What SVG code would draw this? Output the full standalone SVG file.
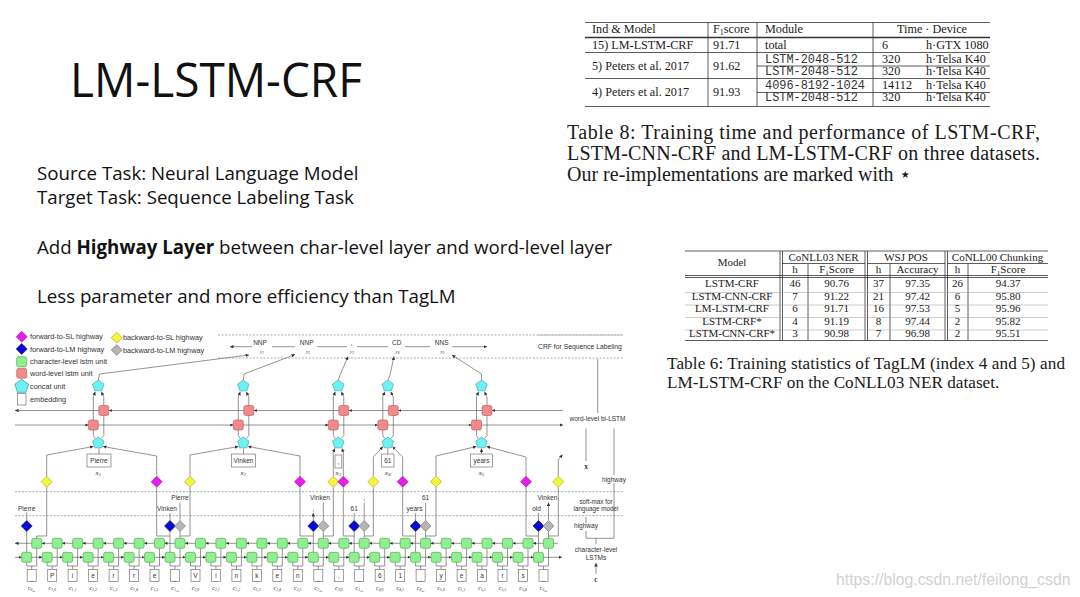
<svg xmlns="http://www.w3.org/2000/svg" width="1080" height="597" viewBox="0 0 1080 597">
<style>
.sl{font-family:"Open Sans","Noto Sans",sans-serif;fill:#111}
.tm{font-family:"Liberation Serif","Times New Roman",serif;fill:#1a1a1a}
.mo{font-family:"Liberation Mono","Courier New",monospace;fill:#333}
.tb{stroke:#333;stroke-width:0.8;fill:none}
.df{font-family:"Liberation Sans",Arial,sans-serif;fill:#333;font-size:6.5px}
.lg{font-family:"Liberation Sans",Arial,sans-serif;fill:#333;font-size:7.3px}
.it{font-family:"Liberation Serif","Times New Roman",serif;font-style:italic;fill:#333}
.ln{stroke:#666;stroke-width:0.7;fill:none}
.ar{marker-end:url(#ah)}
.dash{stroke:#888;stroke-width:0.7;stroke-dasharray:2 1.5;fill:none}
.g{fill:#8ef08e;stroke:#4a9a4a;stroke-width:0.6}
.r{fill:#f28a8a;stroke:#b05a5a;stroke-width:0.6}
.c{fill:#6ff0f5;stroke:#3a9aa0;stroke-width:0.6}
.mg{fill:#e81ee8;stroke:#9a109a;stroke-width:0.6}
.bl{fill:#0a0ad8;stroke:#05056a;stroke-width:0.6}
.ye{fill:#f5f53a;stroke:#a0a020;stroke-width:0.6}
.gy{fill:#b5b5b5;stroke:#777;stroke-width:0.6}
.em{fill:#fff;stroke:#777;stroke-width:0.7}
</style>
<defs>
<marker id="ah" viewBox="0 0 6 6" refX="6" refY="3" markerWidth="3.5" markerHeight="3.5" markerUnits="userSpaceOnUse" orient="auto-start-reverse"><path d="M0,0L6,3L0,6z" fill="#333"/></marker>
<marker id="am" viewBox="0 0 6 6" refX="6" refY="3" markerWidth="3" markerHeight="3" markerUnits="userSpaceOnUse" orient="auto"><path d="M0,0L6,3L0,6z" fill="#333"/></marker>
<rect id="sq" x="-5" y="-5" width="10" height="10" rx="2"/>
<polygon id="pent" points="0,-6 5.71,-1.85 3.53,4.85 -3.53,4.85 -5.71,-1.85"/>
<polygon id="dia" points="0,-5.5 5.5,0 0,5.5 -5.5,0"/>
</defs>
<rect width="1080" height="597" fill="#fff"/>

<!-- slide text -->
<text class="sl" x="70" y="97" font-size="48" textLength="292" lengthAdjust="spacingAndGlyphs">LM-LSTM-CRF</text>
<text class="sl" x="37" y="180" font-size="18.7">Source Task: Neural Language Model</text>
<text class="sl" x="37" y="204" font-size="18.7">Target Task: Sequence Labeling Task</text>
<text class="sl" x="37" y="254" font-size="18.7">Add <tspan font-weight="700">Highway Layer</tspan> between char-level layer and word-level layer</text>
<text class="sl" x="37" y="303" font-size="18.7">Less parameter and more efficiency than TagLM</text>

<!-- Table 8 -->
<g id="table8">
<path class="tb" d="M585 22.5H990M585 52.5H990M585 78.5H990M585 106.5H990M757 66H990M757 92.5H990M708 22.5V106.5M757 22.5V106.5M873 22.5V106.5"/>
<path d="M585 37.5H990" stroke="#333" stroke-width="1.3"/>
<g class="tm" font-size="12.2">
<text x="592" y="33">Ind &amp; Model</text>
<text x="713" y="33">F<tspan font-size="8" dy="2">1</tspan><tspan dy="-2">score</tspan></text>
<text x="765" y="33">Module</text>
<text x="932" y="33" text-anchor="middle">Time · Device</text>
<text x="592" y="48.5">15) LM-LSTM-CRF</text>
<text x="713" y="48.5">91.71</text>
<text x="765" y="48.5">total</text>
<text x="882" y="48.5">6</text>
<text x="926" y="48.5">h·GTX 1080</text>
<text x="592" y="69.5">5) Peters et al. 2017</text>
<text x="713" y="69.5">91.62</text>
<text x="882" y="62.5">320</text>
<text x="926" y="62.5">h·Telsa K40</text>
<text x="882" y="75">320</text>
<text x="926" y="75">h·Telsa K40</text>
<text x="592" y="95.5">4) Peters et al. 2017</text>
<text x="713" y="95.5">91.93</text>
<text x="882" y="88.5">14112</text>
<text x="926" y="88.5">h·Telsa K40</text>
<text x="882" y="101">320</text>
<text x="926" y="101">h·Telsa K40</text>
</g>
<g class="mo" font-size="11.9">
<text x="765" y="62.5">LSTM-2048-512</text>
<text x="765" y="75">LSTM-2048-512</text>
<text x="765" y="88.5">4096-8192-1024</text>
<text x="765" y="101">LSTM-2048-512</text>
</g>
</g>
<g class="tm" font-size="20">
<text x="567" y="139" textLength="473" lengthAdjust="spacing">Table 8: Training time and performance of LSTM-CRF,</text>
<text x="567" y="160" textLength="473" lengthAdjust="spacing">LSTM-CNN-CRF and LM-LSTM-CRF on three datasets.</text>
<text x="567" y="181">Our re-implementations are marked with ⋆</text>
</g>

<!-- Table 6 -->
<g id="table6">
<path class="tb" d="M685 251H1048M782 263.5H865M867.5 263.5H945M947.5 263.5H1048M685 275.5H1048M685 277.5H1048M685 340.5H1048M780 251V340.5M782.5 251V340.5M865 251V340.5M867.5 251V340.5M945 251V340.5M947.5 251V340.5M808 263.5V340.5M890 263.5V340.5M968 263.5V340.5"/>
<path d="M685 292.5H1048M685 305H1048M685 317.5H1048M685 330H1048" stroke="#999" stroke-width="0.5"/>
<g class="tm" font-size="11" text-anchor="middle">
<text x="732" y="266">Model</text>
<text x="823.5" y="260.5">CoNLL03 NER</text>
<text x="906" y="260.5">WSJ POS</text>
<text x="997.5" y="260.5">CoNLL00 Chunking</text>
<text x="795" y="273">h</text>
<text x="836.5" y="273">F<tspan font-size="7" dy="1.5">1</tspan><tspan dy="-1.5">Score</tspan></text>
<text x="878.5" y="273">h</text>
<text x="917.5" y="273">Accuracy</text>
<text x="957.5" y="273">h</text>
<text x="1008" y="273">F<tspan font-size="7" dy="1.5">1</tspan><tspan dy="-1.5">Score</tspan></text>
<text x="732" y="287">LSTM-CRF</text><text x="795" y="287">46</text><text x="836.5" y="287">90.76</text><text x="878.5" y="287">37</text><text x="917.5" y="287">97.35</text><text x="957.5" y="287">26</text><text x="1008" y="287">94.37</text>
<text x="732" y="299.5">LSTM-CNN-CRF</text><text x="795" y="299.5">7</text><text x="836.5" y="299.5">91.22</text><text x="878.5" y="299.5">21</text><text x="917.5" y="299.5">97.42</text><text x="957.5" y="299.5">6</text><text x="1008" y="299.5">95.80</text>
<text x="732" y="312">LM-LSTM-CRF</text><text x="795" y="312">6</text><text x="836.5" y="312">91.71</text><text x="878.5" y="312">16</text><text x="917.5" y="312">97.53</text><text x="957.5" y="312">5</text><text x="1008" y="312">95.96</text>
<text x="732" y="324.5">LSTM-CRF*</text><text x="795" y="324.5">4</text><text x="836.5" y="324.5">91.19</text><text x="878.5" y="324.5">8</text><text x="917.5" y="324.5">97.44</text><text x="957.5" y="324.5">2</text><text x="1008" y="324.5">95.82</text>
<text x="732" y="337">LSTM-CNN-CRF*</text><text x="795" y="337">3</text><text x="836.5" y="337">90.98</text><text x="878.5" y="337">7</text><text x="917.5" y="337">96.98</text><text x="957.5" y="337">2</text><text x="1008" y="337">95.51</text>
</g>
</g>
<g class="tm" font-size="17.2">
<text x="667" y="369" textLength="398" lengthAdjust="spacing">Table 6: Training statistics of TagLM (index 4 and 5) and</text>
<text x="667" y="388">LM-LSTM-CRF on the CoNLL03 NER dataset.</text>
</g>

<!-- watermark -->
<text x="836" y="585" font-family="Liberation Sans,Arial,sans-serif" font-size="15.8" fill="#d2d2d2">https://blog.csdn.net/feilong_csdn</text>

<!-- ================= DIAGRAM ================= -->
<g id="legend">
<use href="#dia" class="mg" x="21.7" y="336.7"/>
<use href="#dia" class="bl" x="21.7" y="349"/>
<use href="#sq" class="g" x="21.7" y="361.7"/>
<use href="#sq" class="r" x="21.7" y="373.3"/>
<use href="#pent" class="c" transform="translate(21.7,386.5) scale(1.2)"/>
<rect class="em" x="17.5" y="393.5" width="8.5" height="11.5"/>
<use href="#dia" class="ye" x="116.7" y="337.7"/>
<use href="#dia" class="gy" x="116.7" y="350"/>
<g class="lg">
<text x="30" y="339.4">forward-to-SL highway</text>
<text x="30" y="351.7">forward-to-LM highway</text>
<text x="30" y="364.3">character-level lstm unit</text>
<text x="30" y="375.9">word-level lstm unit</text>
<text x="30" y="388.6">concat unit</text>
<text x="30" y="401.6">embedding</text>
<text x="123" y="340.4">backward-to-SL highway</text>
<text x="123" y="352.7">backward-to-LM highway</text>
</g>
</g>

<g id="connectors">
<!-- CRF layer -->
<path class="dash" d="M218 335H623M218 358H623M15 491.7H623M15 515.7H623"/>
<path class="ln" marker-start="url(#ah)" marker-end="url(#ah)" d="M230 346.7H252M272 346.7H295M317 346.7H347M357 346.7H388M405 346.7H430M452 346.7H487"/>
<path class="ln ar" d="M98.3 380.5L99.5 374L249 355"/>
<path class="ln ar" d="M243.3 380.5L244 374L295 354.5"/>
<path class="ln ar" d="M338.3 380.5L340 375L348 356.5"/>
<path class="ln ar" d="M387.8 380.5L390 375L394 356.5"/>
<path class="ln ar" d="M481.5 380.5L481.5 374L452 355"/>
<!-- word-level bi-LSTM lines -->
<path class="ln" marker-mid="url(#am)" marker-end="url(#ah)" d="M563 410.5H492H398.3H348.8H253.8H108.8H15"/>
<path class="ln" marker-mid="url(#am)" marker-end="url(#ah)" d="M15 425H88.3H233.3H328.3H377.8H471.5H563"/>
<!-- concat loops -->
<path class="ln ar" d="M95.3 438.5L93.3 435.5V397L95.3 391.8"/><path class="ln ar" d="M101.3 438.5L103.8 435.5V397L101.3 391.8"/>
<path class="ln ar" d="M240.3 438.5L238.3 435.5V397L240.3 391.8"/><path class="ln ar" d="M246.3 438.5L248.8 435.5V397L246.3 391.8"/>
<path class="ln ar" d="M335.3 438.5L333.3 435.5V397L335.3 391.8"/><path class="ln ar" d="M341.3 438.5L343.8 435.5V397L341.3 391.8"/>
<path class="ln ar" d="M384.8 438.5L382.8 435.5V397L384.8 391.8"/><path class="ln ar" d="M390.8 438.5L393.3 435.5V397L390.8 391.8"/>
<path class="ln ar" d="M478.5 438.5L476.5 435.5V397L478.5 391.8"/><path class="ln ar" d="M484.5 438.5L487 435.5V397L484.5 391.8"/>
<!-- embedding to concat -->
<path class="ln ar" d="M99 454V448.5M243.5 454V448.5M387.8 454V448.5M481.5 454V448.5"/>
<!-- SL highway to concat -->
<path class="ln ar" d="M46.7 476.2V455L93.5 446.5"/>
<path class="ln ar" d="M156.7 476.2V456L103 446.5"/>
<path class="ln ar" d="M190 476.2V455L238.5 446.5"/>
<path class="ln ar" d="M300 476.2V456L248 446.5"/>
<path class="ln ar" d="M333.3 476.2V452L334.8 448.5"/>
<path class="ln ar" d="M343.3 476.2V452L341.8 448.5"/>
<path class="ln ar" d="M373.3 476.2V457L383 446.5"/>
<path class="ln ar" d="M402.7 476.2V457L392.5 446.5"/>
<path class="ln ar" d="M436 476.2V456L476.5 446.5"/>
<path class="ln ar" d="M526 476.2V457L486.5 446.5"/>
<path class="ln ar" d="M558.3 476.2V460L562.5 454.5"/>
<!-- char LSTM to highways -->
<path class="ln" d="M26.7 552.3V531.5M170 552.3V531.5M313.3 552.3V531.5M354.2 552.3V531.5M415.6 552.3V531.5M538.5 552.3V531.5"/>
<path class="ln" d="M180 538.3V531.5M323.3 538.3V531.5M364.2 538.3V531.5M425.6 538.3V531.5M548.5 538.3V531.5"/>
<path class="ln" d="M36.7 538.3V536H46.7V487.2M170 536H156.7V487.2M180 536H190V487.2M313.3 536H300V487.2M323.3 536H333.3V487.2M354.2 536H343.3V487.2M364.2 536H373.3V487.2M415.6 536H402.7V487.2M425.6 536H436V487.2M538.5 536H526V487.2M548.5 536H558.3V487.2"/>
<!-- LM highway outputs -->
<path class="ln ar" d="M26.7 520.5V512.5M170 520.5V513M354.2 520.5V513M415.6 520.5V513M538.5 520.5V513M313.3 520.5V513"/>
<path class="ln ar" d="M180 520.5V502.5M323.3 520.5V502.5M364.2 520.5V502.5M425.6 520.5V502.5M548.5 520.5V502.5"/>
<!-- char-level LSTM lines -->
<path class="ln" marker-mid="url(#am)" marker-end="url(#ah)" d="M558 543.3H533H512.5H492H471.6H451.1H430.6H410.2H389.7H369.2H348.8H328.3H307.8H287.3H266.9H246.4H225.9H205.5H185H164.5H144.1H123.6H103.1H82.6H62.2H41.7H15"/>
<path class="ln" marker-mid="url(#am)" marker-end="url(#ah)" d="M15 557.3H21.7H42.2H62.6H83.1H103.6H124.1H144.5H165H185.5H205.9H226.4H246.9H267.3H287.8H308.3H328.8H349.2H369.7H390.2H410.6H431.1H451.6H472H492.5H513H533.5H562"/>
<!-- char inputs -->
<path class="ln" d="M31.7 569.5V566M26.7 562.3V566H36.7V548.3M52.2 569.5V566M47.2 562.3V566H57.2V548.3M72.6 569.5V566M67.6 562.3V566H77.6V548.3M93.1 569.5V566M88.1 562.3V566H98.1V548.3M113.6 569.5V566M108.6 562.3V566H118.6V548.3M134.1 569.5V566M129.1 562.3V566H139.1V548.3M154.5 569.5V566M149.5 562.3V566H159.5V548.3M175 569.5V566M170 562.3V566H180V548.3M195.5 569.5V566M190.5 562.3V566H200.5V548.3M215.9 569.5V566M210.9 562.3V566H220.9V548.3M236.4 569.5V566M231.4 562.3V566H241.4V548.3M256.9 569.5V566M251.9 562.3V566H261.9V548.3M277.3 569.5V566M272.3 562.3V566H282.3V548.3M297.8 569.5V566M292.8 562.3V566H302.8V548.3M318.3 569.5V566M313.3 562.3V566H323.3V548.3M338.8 569.5V566M333.8 562.3V566H343.8V548.3M359.2 569.5V566M354.2 562.3V566H364.2V548.3M379.7 569.5V566M374.7 562.3V566H384.7V548.3M400.2 569.5V566M395.2 562.3V566H405.2V548.3M420.6 569.5V566M415.6 562.3V566H425.6V548.3M441.1 569.5V566M436.1 562.3V566H446.1V548.3M461.6 569.5V566M456.6 562.3V566H466.6V548.3M482 569.5V566M477 562.3V566H487V548.3M502.5 569.5V566M497.5 562.3V566H507.5V548.3M523 569.5V566M518 562.3V566H528V548.3M543.5 569.5V566M538.5 562.3V566H548.5V548.3"/>
<!-- right panel -->
<path class="dash" d="M538 335H623"/>
<path class="ln ar" d="M597.7 413V359M586 461V428.5M614 475V428.5M586 523V517M586 538V531M614 538.3V483M596 574V563"/>
<path class="ln" d="M586 538.3H614M596 538.3V544"/>
</g>

<g id="crf-tags" class="df">
<text x="538" y="349" font-size="6.8">CRF for Sequence Labeling</text>
<g text-anchor="middle">
<text x="260" y="344.5">NNP</text><text x="306.7" y="344.5">NNP</text><text x="351.7" y="344.5">,</text><text x="396.7" y="344.5">CD</text><text x="441.7" y="344.5">NNS</text>
</g>
<g class="it" font-size="5" text-anchor="middle">
<text x="262" y="352.5">y<tspan font-size="3.5" dy="1">1</tspan></text>
<text x="308" y="352.5">y<tspan font-size="3.5" dy="1">2</tspan></text>
<text x="352" y="352.5">y<tspan font-size="3.5" dy="1">3</tspan></text>
<text x="397.5" y="352.5">y<tspan font-size="3.5" dy="1">4</tspan></text>
<text x="442.5" y="352.5">y<tspan font-size="3.5" dy="1">5</tspan></text>
</g>
</g>

<g id="word-lstm">
<use href="#sq" class="r" x="103.8" y="410.5"/><use href="#sq" class="r" x="93.3" y="425"/>
<use href="#sq" class="r" x="248.8" y="410.5"/><use href="#sq" class="r" x="238.3" y="425"/>
<use href="#sq" class="r" x="343.8" y="410.5"/><use href="#sq" class="r" x="333.3" y="425"/>
<use href="#sq" class="r" x="393.3" y="410.5"/><use href="#sq" class="r" x="382.8" y="425"/>
<use href="#sq" class="r" x="487" y="410.5"/><use href="#sq" class="r" x="476.5" y="425"/>
</g>

<g id="concat-units">
<use href="#pent" class="c" x="98.3" y="386"/><use href="#pent" class="c" x="98.3" y="443"/>
<use href="#pent" class="c" x="243.3" y="386"/><use href="#pent" class="c" x="243.3" y="443"/>
<use href="#pent" class="c" x="338.3" y="386"/><use href="#pent" class="c" x="338.3" y="443"/>
<use href="#pent" class="c" x="387.8" y="386"/><use href="#pent" class="c" x="387.8" y="443"/>
<use href="#pent" class="c" x="481.5" y="386"/><use href="#pent" class="c" x="481.5" y="443"/>
</g>

<g id="word-embeddings">
<rect class="em" x="87" y="454" width="24" height="13"/>
<rect class="em" x="231.5" y="454" width="24" height="13"/>
<rect class="em" x="335" y="455" width="6.8" height="13"/>
<rect class="em" x="381.5" y="454" width="12.5" height="13"/>
<rect class="em" x="470.5" y="454" width="22" height="13"/>
<g class="df" text-anchor="middle">
<text x="99" y="463">Pierre</text><text x="243.5" y="463">Vinken</text><text x="338.4" y="464">,</text><text x="387.8" y="463">61</text><text x="481.5" y="463">years</text>
</g>
<g class="it" font-size="7" text-anchor="middle">
<text x="98.3" y="474.5">x<tspan font-size="4.5" dy="1.2">1</tspan></text>
<text x="243.3" y="474.5">x<tspan font-size="4.5" dy="1.2">2</tspan></text>
<text x="338.3" y="474.5">x<tspan font-size="4.5" dy="1.2">3</tspan></text>
<text x="387.8" y="474.5">x<tspan font-size="4.5" dy="1.2">4</tspan></text>
<text x="481.5" y="474.5">x<tspan font-size="4.5" dy="1.2">5</tspan></text>
</g>
</g>

<g id="sl-highways">
<use href="#dia" class="ye" x="46.7" y="481.7"/><use href="#dia" class="mg" x="156.7" y="481.7"/>
<use href="#dia" class="ye" x="190" y="481.7"/><use href="#dia" class="mg" x="300" y="481.7"/>
<use href="#dia" class="ye" x="333.3" y="481.7"/><use href="#dia" class="mg" x="343.3" y="481.7"/>
<use href="#dia" class="ye" x="373.3" y="481.7"/><use href="#dia" class="mg" x="402.7" y="481.7"/>
<use href="#dia" class="ye" x="436" y="481.7"/><use href="#dia" class="mg" x="526" y="481.7"/>
<use href="#dia" class="ye" x="558.3" y="481.7"/>
</g>

<g id="lm-highways">
<use href="#dia" class="bl" x="26.7" y="526"/>
<use href="#dia" class="bl" x="170" y="526"/><use href="#dia" class="gy" x="180" y="526"/>
<use href="#dia" class="bl" x="313.3" y="526"/><use href="#dia" class="gy" x="323.3" y="526"/>
<use href="#dia" class="bl" x="354.2" y="526"/><use href="#dia" class="gy" x="364.2" y="526"/>
<use href="#dia" class="bl" x="415.6" y="526"/><use href="#dia" class="gy" x="425.6" y="526"/>
<use href="#dia" class="bl" x="538.5" y="526"/><use href="#dia" class="gy" x="548.5" y="526"/>
<g class="df" text-anchor="middle">
<text x="26.7" y="510.5">Pierre</text>
<text x="167" y="510.5">Vinken</text><text x="180" y="499.5">Pierre</text>
<text x="313.3" y="510.5">,</text><text x="320" y="499.5">Vinken</text>
<text x="354.2" y="510.5">61</text><text x="364.2" y="499.5">,</text>
<text x="414.5" y="510.5">years</text><text x="425.6" y="499.5">61</text>
<text x="536.5" y="510.5">old</text><text x="547.5" y="499.5">Vinken</text>
</g>
</g>

<g id="char-lstm">
<g class="g">
<use href="#sq" x="36.7" y="543.3"/><use href="#sq" x="57.2" y="543.3"/><use href="#sq" x="77.6" y="543.3"/><use href="#sq" x="98.1" y="543.3"/><use href="#sq" x="118.6" y="543.3"/><use href="#sq" x="139.1" y="543.3"/><use href="#sq" x="159.5" y="543.3"/><use href="#sq" x="180" y="543.3"/><use href="#sq" x="200.5" y="543.3"/><use href="#sq" x="220.9" y="543.3"/><use href="#sq" x="241.4" y="543.3"/><use href="#sq" x="261.9" y="543.3"/><use href="#sq" x="282.3" y="543.3"/><use href="#sq" x="302.8" y="543.3"/><use href="#sq" x="323.3" y="543.3"/><use href="#sq" x="343.8" y="543.3"/><use href="#sq" x="364.2" y="543.3"/><use href="#sq" x="384.7" y="543.3"/><use href="#sq" x="405.2" y="543.3"/><use href="#sq" x="425.6" y="543.3"/><use href="#sq" x="446.1" y="543.3"/><use href="#sq" x="466.6" y="543.3"/><use href="#sq" x="487" y="543.3"/><use href="#sq" x="507.5" y="543.3"/><use href="#sq" x="528" y="543.3"/><use href="#sq" x="548.5" y="543.3"/>
<use href="#sq" x="26.7" y="557.3"/><use href="#sq" x="47.2" y="557.3"/><use href="#sq" x="67.6" y="557.3"/><use href="#sq" x="88.1" y="557.3"/><use href="#sq" x="108.6" y="557.3"/><use href="#sq" x="129.1" y="557.3"/><use href="#sq" x="149.5" y="557.3"/><use href="#sq" x="170" y="557.3"/><use href="#sq" x="190.5" y="557.3"/><use href="#sq" x="210.9" y="557.3"/><use href="#sq" x="231.4" y="557.3"/><use href="#sq" x="251.9" y="557.3"/><use href="#sq" x="272.3" y="557.3"/><use href="#sq" x="292.8" y="557.3"/><use href="#sq" x="313.3" y="557.3"/><use href="#sq" x="333.8" y="557.3"/><use href="#sq" x="354.2" y="557.3"/><use href="#sq" x="374.7" y="557.3"/><use href="#sq" x="395.2" y="557.3"/><use href="#sq" x="415.6" y="557.3"/><use href="#sq" x="436.1" y="557.3"/><use href="#sq" x="456.6" y="557.3"/><use href="#sq" x="477" y="557.3"/><use href="#sq" x="497.5" y="557.3"/><use href="#sq" x="518" y="557.3"/><use href="#sq" x="538.5" y="557.3"/>
</g>
</g>

<g id="char-inputs">
<g class="em">
<rect x="27.2" y="569.5" width="9" height="12"/><rect x="47.7" y="569.5" width="9" height="12"/><rect x="68.1" y="569.5" width="9" height="12"/><rect x="88.6" y="569.5" width="9" height="12"/><rect x="109.1" y="569.5" width="9" height="12"/><rect x="129.6" y="569.5" width="9" height="12"/><rect x="150" y="569.5" width="9" height="12"/><rect x="170.5" y="569.5" width="9" height="12"/><rect x="191" y="569.5" width="9" height="12"/><rect x="211.4" y="569.5" width="9" height="12"/><rect x="231.9" y="569.5" width="9" height="12"/><rect x="252.4" y="569.5" width="9" height="12"/><rect x="272.8" y="569.5" width="9" height="12"/><rect x="293.3" y="569.5" width="9" height="12"/><rect x="313.8" y="569.5" width="9" height="12"/><rect x="334.3" y="569.5" width="9" height="12"/><rect x="354.7" y="569.5" width="9" height="12"/><rect x="375.2" y="569.5" width="9" height="12"/><rect x="395.7" y="569.5" width="9" height="12"/><rect x="416.1" y="569.5" width="9" height="12"/><rect x="436.6" y="569.5" width="9" height="12"/><rect x="457.1" y="569.5" width="9" height="12"/><rect x="477.5" y="569.5" width="9" height="12"/><rect x="498" y="569.5" width="9" height="12"/><rect x="518.5" y="569.5" width="9" height="12"/><rect x="539" y="569.5" width="9" height="12"/>
</g>
<g class="df" font-size="7" text-anchor="middle">
<text x="52.2" y="578">P</text><text x="72.6" y="578">i</text><text x="93.1" y="578">e</text><text x="113.6" y="578">r</text><text x="134.1" y="578">r</text><text x="154.5" y="578">e</text>
<text x="195.5" y="578">V</text><text x="215.9" y="578">i</text><text x="236.4" y="578">n</text><text x="256.9" y="578">k</text><text x="277.3" y="578">e</text><text x="297.8" y="578">n</text>
<text x="338.8" y="578">,</text><text x="379.7" y="578">6</text><text x="400.2" y="578">1</text>
<text x="441.1" y="578">y</text><text x="461.6" y="578">e</text><text x="482" y="578">a</text><text x="502.5" y="578">r</text><text x="523" y="578">s</text>
</g>
<g font-family="DejaVu Sans,sans-serif" font-size="4.5" fill="#555" text-anchor="middle">
<text x="31.7" y="580.5">␣</text><text x="175" y="580.5">␣</text><text x="318.3" y="580.5">␣</text><text x="359.2" y="580.5">␣</text><text x="420.6" y="580.5">␣</text><text x="543.5" y="580.5">␣</text>
</g>
<g class="it" font-size="6" text-anchor="middle" fill="#555">
<text x="31.7" y="590">c<tspan font-size="3.8" dy="1">0,␣</tspan></text>
<text x="52.2" y="590">c<tspan font-size="3.8" dy="1">1,0</tspan></text>
<text x="72.6" y="590">c<tspan font-size="3.8" dy="1">1,1</tspan></text>
<text x="93.1" y="590">c<tspan font-size="3.8" dy="1">1,2</tspan></text>
<text x="113.6" y="590">c<tspan font-size="3.8" dy="1">1,3</tspan></text>
<text x="134.1" y="590">c<tspan font-size="3.8" dy="1">1,4</tspan></text>
<text x="154.5" y="590">c<tspan font-size="3.8" dy="1">1,5</tspan></text>
<text x="175" y="590">c<tspan font-size="3.8" dy="1">1,␣</tspan></text>
<text x="195.5" y="590">c<tspan font-size="3.8" dy="1">2,0</tspan></text>
<text x="215.9" y="590">c<tspan font-size="3.8" dy="1">2,1</tspan></text>
<text x="236.4" y="590">c<tspan font-size="3.8" dy="1">2,2</tspan></text>
<text x="256.9" y="590">c<tspan font-size="3.8" dy="1">2,3</tspan></text>
<text x="277.3" y="590">c<tspan font-size="3.8" dy="1">2,4</tspan></text>
<text x="297.8" y="590">c<tspan font-size="3.8" dy="1">2,5</tspan></text>
<text x="318.3" y="590">c<tspan font-size="3.8" dy="1">2,␣</tspan></text>
<text x="338.8" y="590">c<tspan font-size="3.8" dy="1">3,0</tspan></text>
<text x="359.2" y="590">c<tspan font-size="3.8" dy="1">3,␣</tspan></text>
<text x="379.7" y="590">c<tspan font-size="3.8" dy="1">4,0</tspan></text>
<text x="400.2" y="590">c<tspan font-size="3.8" dy="1">4,1</tspan></text>
<text x="420.6" y="590">c<tspan font-size="3.8" dy="1">4,␣</tspan></text>
<text x="441.1" y="590">c<tspan font-size="3.8" dy="1">5,0</tspan></text>
<text x="461.6" y="590">c<tspan font-size="3.8" dy="1">5,1</tspan></text>
<text x="482" y="590">c<tspan font-size="3.8" dy="1">5,2</tspan></text>
<text x="502.5" y="590">c<tspan font-size="3.8" dy="1">5,3</tspan></text>
<text x="523" y="590">c<tspan font-size="3.8" dy="1">5,4</tspan></text>
<text x="543.5" y="590">c<tspan font-size="3.8" dy="1">5,␣</tspan></text>
</g>
</g>

<g id="layer-labels" class="df" text-anchor="middle">
<text x="597.5" y="420.7">word-level bi-LSTM</text>
<text x="586" y="469" font-family="Liberation Serif,serif" font-weight="700" font-size="7.5">x</text>
<text x="614" y="481.5">highway</text>
<text x="596" y="504" font-size="6.3">soft-max for</text>
<text x="596" y="511" font-size="6.3">language model</text>
<text x="586" y="528.3">highway</text>
<text x="596" y="551.5">character-level</text>
<text x="596" y="559.5">LSTMs</text>
<text x="596" y="581.5" font-family="Liberation Serif,serif" font-weight="700" font-size="7.5">c</text>
</g>
</svg>
